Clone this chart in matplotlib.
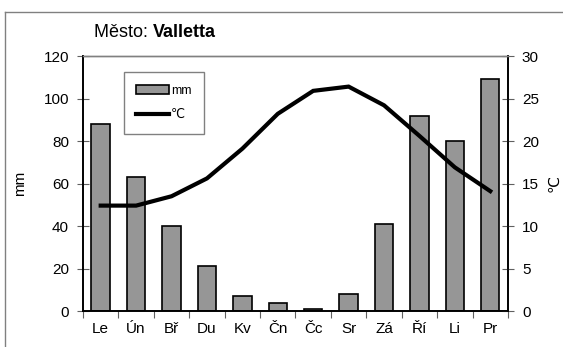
import matplotlib.pyplot as plt
from matplotlib.lines import Line2D
import numpy as np

plt.rcParams["font.family"] = ["Liberation Sans", "DejaVu Sans"]

CITY = "Valletta"
MONTHS = ["Le", "Ún", "Bř", "Du", "Kv", "Čn", "Čc", "Sr", "Zá", "Ří", "Li", "Pr"]
PRECIP_MM = [88, 63, 40, 21, 7, 4, 1, 8, 41, 92, 80, 109]
TEMP_C = [12.4, 12.4, 13.5, 15.6, 19.1, 23.2, 25.9, 26.4, 24.2, 20.6, 16.9, 14.1]

BAR_GRAY = "#969696"
FRAME_GRAY = "#808080"
TICK_GRAY = "#606060"
FS = 11


def main():
    fig = plt.figure(figsize=(5.63, 3.47), dpi=100)
    ax = fig.add_axes([0.1474, 0.1037, 0.7549, 0.7349])
    ax2 = ax.twinx()

    x = np.arange(len(MONTHS))
    bars = ax.bar(x, PRECIP_MM, width=0.52, color=BAR_GRAY, edgecolor="black",
                  linewidth=1.2, label="mm", zorder=2)
    line, = ax2.plot(x, TEMP_C, color="black", linewidth=3.0, label="℃",
                     solid_joinstyle="miter", zorder=3)

    ax.set_xlim(-0.5, len(MONTHS) - 0.5)
    ax.set_ylim(0, 120)
    ax2.set_ylim(0, 30)
    ax.set_yticks(np.arange(0, 121, 20))
    ax2.set_yticks(np.arange(0, 31, 5))

    ax.set_xticks(x)
    ax.set_xticklabels(MONTHS)
    ax.set_xticks(np.arange(-0.5, len(MONTHS)), minor=True)
    ax.tick_params(axis="x", which="major", length=0, pad=8, labelsize=FS)
    ax.tick_params(axis="x", which="minor", length=5, direction="out",
                   color=TICK_GRAY, width=0.8)
    ax.tick_params(axis="y", length=8, direction="inout", color=TICK_GRAY,
                   width=0.8, labelsize=FS, pad=6)
    ax2.tick_params(axis="y", length=8, direction="inout", color=TICK_GRAY,
                    width=0.8, labelsize=FS, pad=6)

    for a in (ax, ax2):
        a.spines["top"].set_color(FRAME_GRAY)
        a.spines["top"].set_linewidth(1.0)
        for side in ("left", "right", "bottom"):
            a.spines[side].set_color("black")
            a.spines[side].set_linewidth(1.2)

    ax.set_ylabel("mm", fontsize=FS, labelpad=12)
    ax2.set_ylabel("℃", fontsize=FS, rotation=90, labelpad=6)

    fig.legend([bars, line], ["mm", "℃"], loc="upper left",
               bbox_to_anchor=(0.220, 0.7925), bbox_transform=fig.transFigure,
               fontsize=9, frameon=True, fancybox=False, edgecolor=FRAME_GRAY,
               framealpha=1, borderpad=1.0, handlelength=2.6, handletextpad=0.15,
               labelspacing=1.0, borderaxespad=0)

    # title: regular prefix followed by bold city name
    t1 = fig.text(0.167, 0.905, "Město: ", fontsize=13, va="center", ha="left")
    fig.canvas.draw()
    bb = t1.get_window_extent()
    fig.text(bb.x1 / fig.bbox.width, 0.905, CITY, fontsize=13,
             fontweight="bold", va="center", ha="left")

    # outer chart-area frame (left and top edges)
    fig.add_artist(Line2D([4.5 / 563, 4.5 / 563], [0, 1 - 11.5 / 347],
                          transform=fig.transFigure, color=FRAME_GRAY, lw=1.0))
    fig.add_artist(Line2D([4.5 / 563, 1], [1 - 11.5 / 347, 1 - 11.5 / 347],
                          transform=fig.transFigure, color=FRAME_GRAY, lw=1.0))

    fig.savefig("out.png", dpi=100)


if __name__ == "__main__":
    main()
